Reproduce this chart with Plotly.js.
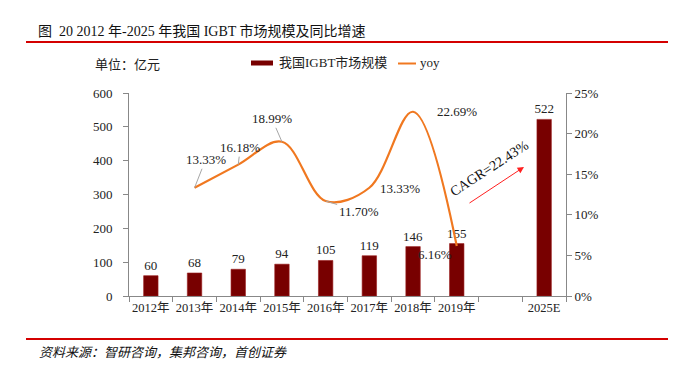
<!DOCTYPE html>
<html>
<head>
<meta charset="utf-8">
<script src="https://cdn.plot.ly/plotly-3.0.1.min.js"></script>
<style>html,body{margin:0;padding:0;background:#fff}#chart{width:679px;height:365px}</style>
</head>
<body>
<div id="chart"></div>
<script>
var categories = ['2012年','2013年','2014年','2015年','2016年','2017年','2018年','2019年',' ','2025E'];
var marketSize = [60, 68, 79, 94, 105, 119, 146, 155, null, 522];
var yoyPct = [null, 13.33, 16.18, 18.99, 11.70, 13.33, 22.69, 6.16, null, null];
var yoyLabels = ['', '13.33%', '16.18%', '18.99%', '11.70%', '13.33%', '22.69%', '6.16%', '', ''];
var cagrText = 'CAGR=22.43%';
var titleText = '图  20 2012 年-2025 年我国 IGBT 市场规模及同比增速';
var sourceText = '资料来源：智研咨询，集邦咨询，首创证券';
var unitText = '单位：亿元';
var seriesNames = ['我国IGBT市场规模', 'yoy'];

var serif = '"Liberation Serif", "Noto Sans CJK SC", serif';
var L = 129, R = 566, T = 93, B = 296;
function px(x){ return (x - L) / (R - L); }
function py(y){ return (B - y) / (B - T); }

var yoy = yoyPct.map(function(v){ return v === null ? null : v / 100; });

var traces = [
  {
    type: 'bar', x: categories, y: marketSize, name: seriesNames[0],
    marker: {color: '#780000', line: {color: '#9b1c1c', width: 0.6}},
    text: marketSize.map(function(v){ return v === null ? '' : String(v); }),
    textposition: 'outside', cliponaxis: false, constraintext: 'none',
    textfont: {family: serif, size: 13, color: '#222'},
    showlegend: false, hoverinfo: 'skip'
  },
  {
    type: 'scatter', mode: 'lines', x: categories, y: yoy, yaxis: 'y2', name: seriesNames[1],
    line: {color: '#f07820', width: 2.2, shape: 'spline', smoothing: 1},
    connectgaps: false, showlegend: false, hoverinfo: 'skip'
  }
];

// label offsets in pixels: [dx, dy (positive = down), leader line]
var labelOffsets = [null, [11,-28,true], [2,-17,true], [-10,-23,true], [33,10,true], [31,1,false], [44,0,false], [-22,9,false], null, null];

var annotations = [];
for (var i = 0; i < categories.length; i++) {
  var o = labelOffsets[i];
  if (!o || yoy[i] === null) continue;
  var a = {
    x: categories[i], y: yoy[i], xref: 'x', yref: 'y2', text: yoyLabels[i],
    font: {family: serif, size: 13, color: '#222'}
  };
  if (o[2]) {
    a.showarrow = true; a.arrowhead = 0; a.arrowwidth = 1; a.arrowcolor = '#a6a6a6';
    a.ax = o[0]; a.ay = o[1]; a.standoff = 0;
  } else {
    a.showarrow = false; a.xshift = o[0]; a.yshift = -o[1];
  }
  annotations.push(a);
}

annotations.push({xref:'paper', yref:'paper', x: px(36), y: py(31), xanchor:'left', yanchor:'middle',
  text: titleText, showarrow:false, font:{family: serif, size: 14, color:'#111'}});
annotations.push({xref:'paper', yref:'paper', x: px(37), y: py(352), xanchor:'left', yanchor:'middle',
  text: '<i>' + sourceText + '</i>', showarrow:false, font:{family: serif, size: 13, color:'#111'}});
annotations.push({xref:'paper', yref:'paper', x: px(93), y: py(64), xanchor:'left', yanchor:'middle',
  text: unitText, showarrow:false, font:{family: serif, size: 13, color:'#222'}});
annotations.push({xref:'paper', yref:'paper', x: px(277), y: py(63), xanchor:'left', yanchor:'middle',
  text: seriesNames[0], showarrow:false, font:{family: serif, size: 13, color:'#222'}});
annotations.push({xref:'paper', yref:'paper', x: px(418), y: py(63), xanchor:'left', yanchor:'middle',
  text: seriesNames[1], showarrow:false, font:{family: serif, size: 13, color:'#222'}});
annotations.push({xref:'paper', yref:'paper', x: px(489), y: py(168), xanchor:'center', yanchor:'middle',
  text: cagrText, textangle: -33, showarrow:false, font:{family: serif, size: 14, color:'#111'}});
annotations.push({xref:'paper', yref:'paper', x: px(524), y: py(167), text: '',
  showarrow:true, arrowhead:2, arrowsize:1.3, arrowwidth:1, arrowcolor:'#ff2020', ax:-56, ay:37, standoff:0});

var shapes = [
  {type:'line', xref:'paper', yref:'paper', x0: px(26), x1: px(668), y0: py(42), y1: py(42), line:{color:'#d40000', width:2}},
  {type:'line', xref:'paper', yref:'paper', x0: px(26), x1: px(668), y0: py(339), y1: py(339), line:{color:'#d40000', width:2}},
  {type:'rect', xref:'paper', yref:'paper', x0: px(251), x1: px(273), y0: py(65.5), y1: py(60.5), fillcolor:'#780000', line:{width:0}},
  {type:'line', xref:'paper', yref:'paper', x0: px(398), x1: px(416), y0: py(63.5), y1: py(63.5), line:{color:'#f07820', width:2}}
];

var layout = {
  width: 679, height: 365,
  margin: {l: L, r: 679 - R, t: T, b: 365 - B},
  paper_bgcolor: '#fff', plot_bgcolor: '#fff',
  bargap: 0.67,
  showlegend: false,
  xaxis: {
    type: 'category', tickson: 'boundaries', ticks: 'outside', ticklen: 5, tickcolor: '#888',
    showline: true, linecolor: '#888', linewidth: 1, showgrid: false, zeroline: false,
    tickangle: 0, automargin: false,
    tickfont: {family: serif, size: 12.5, color: '#222'}, fixedrange: true
  },
  yaxis: {
    range: [0, 600], dtick: 100, ticks: 'outside', ticklen: 5, tickcolor: '#888',
    showline: true, linecolor: '#888', linewidth: 1, showgrid: false, zeroline: false,
    tickfont: {family: serif, size: 13, color: '#222'}, ticklabelstandoff: 8
  },
  yaxis2: {
    overlaying: 'y', side: 'right', range: [0, 0.25], dtick: 0.05, tickformat: '.0%',
    ticks: 'outside', ticklen: 5, tickcolor: '#888',
    showline: true, linecolor: '#888', linewidth: 1, showgrid: false, zeroline: false,
    tickfont: {family: serif, size: 13, color: '#222'}
  },
  annotations: annotations,
  shapes: shapes
};

Plotly.newPlot('chart', traces, layout, {displayModeBar: false, staticPlot: true});
</script>
</body>
</html>
